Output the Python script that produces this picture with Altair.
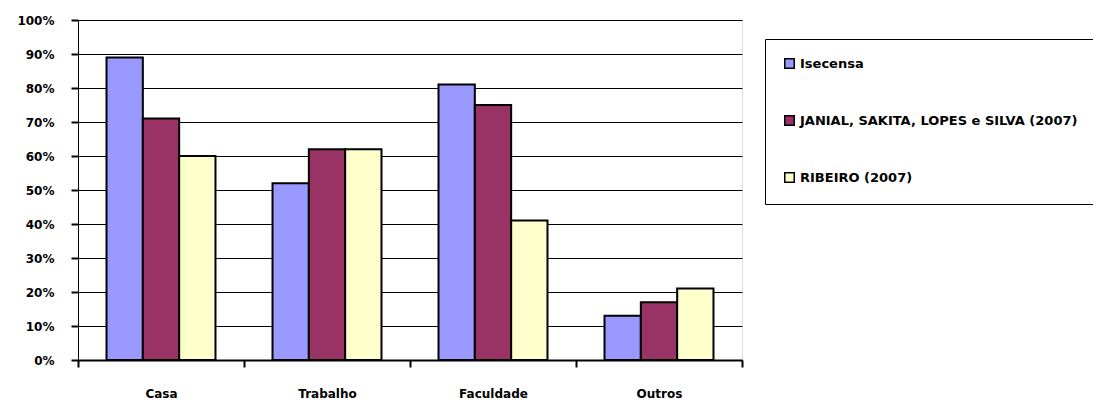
import altair as alt
import pandas as pd

categories = ["Casa", "Trabalho", "Faculdade", "Outros"]
series = ["Isecensa", "JANIAL, SAKITA,  LOPES e SILVA (2007)", "RIBEIRO (2007)"]
isecensa = [89, 52, 81, 13]
janial = [71, 62, 75, 17]
ribeiro = [60, 62, 41, 21]
colors = ["#9999FF", "#993366", "#FFFFCC"]

rows = []
for s, vals in zip(series, [isecensa, janial, ribeiro]):
    for c, v in zip(categories, vals):
        rows.append({"categoria": c, "serie": s, "valor": v / 100})
df = pd.DataFrame(rows)

FONT = "DejaVu Sans"

chart = alt.Chart(df).mark_bar(stroke="black", strokeWidth=2).encode(
    x=alt.X("categoria:N", sort=categories, title=None,
            scale=alt.Scale(paddingInner=0, paddingOuter=0),
            axis=alt.Axis(labelAngle=0, tickBand="extent", tickSize=7, tickWidth=2,
                          tickColor="black", domainColor="black", domainWidth=2,
                          labelFont=FONT, labelFontWeight="bold", labelFontSize=12,
                          labelColor="black", labelPadding=21, labelBaseline="top")),
    xOffset=alt.XOffset("serie:N", sort=series,
                        scale=alt.Scale(domain=series, paddingInner=0, paddingOuter=0.785)),
    y=alt.Y("valor:Q", title=None,
            scale=alt.Scale(domain=[0, 1], nice=False),
            axis=alt.Axis(values=[i / 10 for i in range(11)], format=".0%",
                          grid=True, gridColor="black", gridWidth=1, gridOpacity=1,
                          tickSize=7, tickColor="black", tickWidth=2,
                          domainColor="black", domainWidth=1,
                          labelFont=FONT, labelFontWeight="bold", labelFontSize=12,
                          labelColor="black", labelPadding=17)),
    fill=alt.Fill("serie:N", sort=series,
                  scale=alt.Scale(domain=series, range=colors),
                  legend=alt.Legend(title=None, orient="none", legendX=687, legendY=19,
                                    strokeColor="black", padding=18, rowPadding=40,
                                    symbolType="square", symbolSize=90,
                                    symbolStrokeColor="black", symbolStrokeWidth=1.5,
                                    labelFont=FONT, labelFontWeight="bold", labelFontSize=13,
                                    labelColor="black", labelOffset=4, labelLimit=400)),
).properties(
    width=664, height=340,
    autosize=alt.AutoSizeParams(type="none"),
    padding={"left": 70, "top": 12, "right": 351, "bottom": 60},
).configure_view(stroke=None).configure(background="white")

chart.save("out.html", embed_options={"renderer": "svg", "actions": False})
